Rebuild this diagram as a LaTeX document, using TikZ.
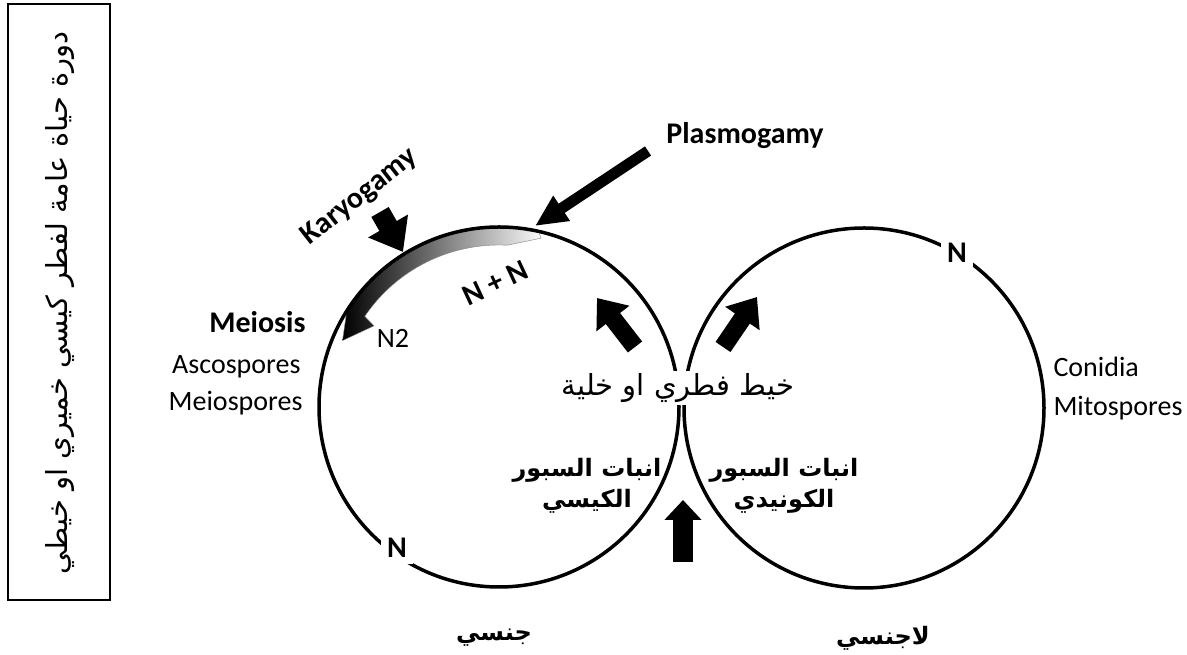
\documentclass[tikz,border=0pt]{standalone}
\usepackage{fontspec}
\setmainfont{Carlito}
\newfontfamily\arabicfont[Script=Arabic]{DejaVu Sans}
\TeXXeTstate=1
\usetikzlibrary{calc,arrows.meta}

\tikzset{
  ring/.style={line width=3.5pt},
  lbl/.style={font=\fontsize{30}{36}\selectfont\bfseries},
  spore/.style={font=\fontsize{28}{34}\selectfont},
  ar/.style={font=\arabicfont\fontsize{29}{36}\selectfont},
  arb/.style={font=\arabicfont\bfseries\fontsize{24}{31}\selectfont},
  fat/.style n args={3}{line width=#1,-{Triangle[width=#2,length=#3]}},
}

\begin{document}
\begin{tikzpicture}[x=1pt,y=1pt]
        \useasboundingbox (0,0) rectangle (1187,655);
        % title frame
        \draw[line width=1.5pt] (8,55) rectangle (110,651);
        \node[ar, rotate=90] (title) at (60,352) {\beginR دورة حياة عامة لفطر كيسي خميري او خيطي\endR};

        \coordinate (lc) at (499,248);
        \coordinate (rc) at (864,247);

        % shaded nucleus band
        \shade[left color=black, right color=gray!5, draw=gray, thin]
            ($(lc)+(77.5:181)$) arc[start angle=77.5, end angle=147, radius=181]
            -- ($(lc)+(157:170)$) -- ($(lc)+(147:149)$) -- ($(lc)+(146:162)$)
            arc[start angle=146, end angle=87, radius=162]
            -- ($(lc)+(76:174)$) -- cycle;

        \draw[ring] (lc) circle[radius=180];
        \draw[ring] (rc) circle[radius=180];

        % arrows
        \coordinate (plasTail) at (648,504);
        \coordinate (plasTip) at (535,429);
        \coordinate (karyTail) at (380,443);
        \coordinate (karyTip) at (403,403);
        \coordinate (upLTail) at (635,308);
        \coordinate (upLTip) at (597,357);
        \coordinate (upRTail) at (723,308);
        \coordinate (upRTip) at (757,358);
        \coordinate (upTail) at (683,93);
        \coordinate (upTip) at (683,155);
        \draw[fat={11pt}{28pt}{32pt}] (plasTail) -- (plasTip);
        \draw[fat={20pt}{44pt}{30pt}] (karyTail) -- (karyTip);
        \draw[fat={18pt}{40pt}{26pt}] (upLTail) -- (upLTip);
        \draw[fat={18pt}{40pt}{26pt}] (upRTail) -- (upRTip);
        \draw[fat={20pt}{36pt}{20pt}] (upTail) -- (upTip);

        % labels
        \node[lbl] (plas) at (745,519) {Plasmogamy};
        \node[lbl, rotate=38] (kary) at (360,458) {Karyogamy};
        \node[lbl, anchor=east] (meio) at (309,333) {Meiosis};
        \node[spore, anchor=east] (asco) at (304,288) {Ascospores};
        \node[spore, anchor=east] (meiosp) at (306,252) {Meiospores};
        \node[spore, anchor=west] (coni) at (1050,288) {Conidia};
        \node[spore, anchor=west] (mito) at (1050,247) {Mitospores};
        \node[spore] (n2) at (393,317) {N2};
        \node[lbl, rotate=25] (nn) at (495,372) {N + N};
        \node[lbl, fill=white, inner sep=6pt] (nLeft) at (397,107) {N};
        \node[lbl, fill=white, inner sep=6pt] (nRight) at (957,402) {N};

        \node[ar, fill=white, inner sep=2pt] (hypha) at (678,267) {\beginR خيط فطري او خلية\endR};
        \node[arb, align=center] (germL) at (587,169) {\beginR انبات السبور\endR\\\beginR الكيسي\endR};
        \node[arb, align=center] (germR) at (784,169) {\beginR انبات السبور\endR\\\beginR الكونيدي\endR};
        \node[arb] (sex) at (494,17) {\beginR جنسي\endR};
        \node[arb] (asex) at (883,17) {\beginR لاجنسي\endR};
    \end{tikzpicture}
\end{document}
